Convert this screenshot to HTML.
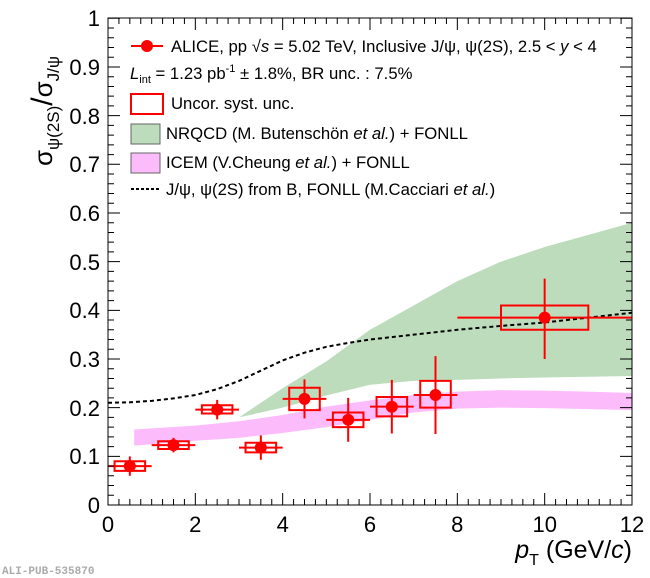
<!DOCTYPE html>
<html><head><meta charset="utf-8"><style>
body{margin:0;background:#fff;}
svg{display:block;font-family:"Liberation Sans",sans-serif;}
</style></head><body>
<svg id="s" width="650" height="578" viewBox="0 0 650 578" xmlns="http://www.w3.org/2000/svg">
<g transform="translate(108,505) scale(43.667,-486.7)">
<polygon fill="#bcdcbc" points="3,0.18 3.5,0.21 4,0.24 5,0.295 6,0.36 7,0.41 8,0.46 9,0.5 10,0.53 11,0.555 12,0.58 12,0.265 10,0.262 9,0.26 8,0.257 7,0.255 6,0.247 5,0.225 4,0.2 3,0.18"/>
<polygon fill="#fcbcfc" points="0.6,0.155 2,0.163 3,0.172 4,0.185 5,0.202 6,0.215 7,0.226 8,0.233 9,0.236 10,0.235 11,0.233 12,0.23 12,0.195 11,0.197 10,0.199 9,0.2 8,0.198 7,0.19 6,0.175 5,0.16 4,0.148 3,0.138 2,0.132 0.6,0.122"/>
<polyline fill="none" stroke="#000" stroke-width="2" stroke-dasharray="4,3" vector-effect="non-scaling-stroke" points="0,0.21 0.5,0.211 1,0.214 1.5,0.219 2,0.226 2.5,0.238 3,0.255 3.5,0.276 4,0.297 4.5,0.313 5,0.325 5.5,0.333 6,0.34 7,0.35 8,0.36 9,0.368 10,0.375 11,0.385 12,0.395"/>
<g fill="none" stroke="#f00" stroke-width="2" vector-effect="non-scaling-stroke">
<rect x="0.15" y="0.07" width="0.7" height="0.02" vector-effect="non-scaling-stroke"/>
<rect x="1.15" y="0.115" width="0.7" height="0.016" vector-effect="non-scaling-stroke"/>
<rect x="2.15" y="0.188" width="0.7" height="0.017" vector-effect="non-scaling-stroke"/>
<rect x="3.15" y="0.108" width="0.7" height="0.02" vector-effect="non-scaling-stroke"/>
<rect x="4.15" y="0.195" width="0.7" height="0.046" vector-effect="non-scaling-stroke"/>
<rect x="5.15" y="0.16" width="0.7" height="0.03" vector-effect="non-scaling-stroke"/>
<rect x="6.15" y="0.182" width="0.7" height="0.04" vector-effect="non-scaling-stroke"/>
<rect x="7.15" y="0.2" width="0.7" height="0.055" vector-effect="non-scaling-stroke"/>
<rect x="9" y="0.36" width="2" height="0.05" vector-effect="non-scaling-stroke"/>
<path vector-effect="non-scaling-stroke" d="M0,0.08H1M0.5,0.06V0.1 M1,0.123H2M1.5,0.108V0.138 M2,0.196H3M2.5,0.176V0.216 M3,0.118H4M3.5,0.093V0.143 M4,0.218H5M4.5,0.178V0.258 M5,0.175H6M5.5,0.13V0.22 M6,0.202H7M6.5,0.147V0.257 M7,0.226H8M7.5,0.146V0.306 M8,0.385H12M10,0.3V0.465"/>
</g>
</g>
<g fill="#f00">
<circle cx="129.8" cy="466.1" r="6"/><circle cx="173.5" cy="445.1" r="6"/><circle cx="217.2" cy="409.6" r="6"/><circle cx="260.8" cy="447.6" r="6"/><circle cx="304.5" cy="398.9" r="6"/><circle cx="348.2" cy="419.8" r="6"/><circle cx="391.8" cy="406.7" r="6"/><circle cx="435.5" cy="395" r="6"/><circle cx="544.7" cy="317.6" r="6"/>
</g>
<rect x="108" y="18" width="524" height="487" fill="none" stroke="#000" stroke-width="1"/>
<path id="ticks" fill="none" stroke="#000" stroke-width="1" d=""/>
<g font-size="22" text-anchor="middle">
<text x="108" y="532">0</text><text x="195.3" y="532">2</text><text x="282.7" y="532">4</text><text x="370" y="532">6</text><text x="457.3" y="532">8</text><text x="544.7" y="532">10</text><text x="632" y="532">12</text>
</g>
<g font-size="22" text-anchor="end">
<text x="100" y="513">0</text><text x="100" y="464">0.1</text><text x="100" y="416">0.2</text><text x="100" y="367">0.3</text><text x="100" y="318">0.4</text><text x="100" y="270">0.5</text><text x="100" y="221">0.6</text><text x="100" y="172">0.7</text><text x="100" y="124">0.8</text><text x="100" y="75">0.9</text><text x="100" y="26">1</text>
</g>
<text x="632" y="558" font-size="25" text-anchor="end"><tspan font-style="italic">p</tspan><tspan font-size="16" dy="7">T</tspan><tspan dy="-7"> (GeV/</tspan><tspan font-style="italic">c</tspan>)</text>
<text transform="translate(52,166) rotate(-90)" font-size="26"><tspan>σ</tspan><tspan font-size="17" dy="7">ψ(2S)</tspan><tspan dy="-7" font-size="30">/</tspan><tspan>σ</tspan><tspan font-size="17" dy="7">J/ψ</tspan></text>
<g font-size="16.7">
<line x1="131" y1="46" x2="163" y2="46" stroke="#f00" stroke-width="2"/><circle cx="147" cy="46" r="6" fill="#f00"/>
<text x="171" y="52">ALICE, pp √<tspan font-style="italic">s</tspan> = 5.02 TeV, Inclusive J/ψ, ψ(2S), 2.5 &lt; <tspan font-style="italic">y</tspan> &lt; 4</text>
<text x="130" y="79"><tspan font-style="italic">L</tspan><tspan font-size="11" dy="4">int</tspan><tspan dy="-4"> = 1.23 pb</tspan><tspan font-size="11" dy="-7">-1</tspan><tspan dy="7"> ± 1.8%, BR unc. : 7.5%</tspan></text>
<rect x="131" y="94" width="32" height="20" fill="none" stroke="#f00" stroke-width="2"/>
<text x="171" y="109">Uncor. syst. unc.</text>
<rect x="131" y="124" width="29" height="20" fill="#bcdcbc" stroke="#666"/>
<text x="166" y="139">NRQCD (M. Butenschön <tspan font-style="italic">et al.</tspan>) + FONLL</text>
<rect x="131" y="153" width="29" height="20" fill="#fcbcfc" stroke="#666"/>
<text x="166" y="168">ICEM (V.Cheung <tspan font-style="italic">et al.</tspan>) + FONLL</text>
<line x1="131" y1="189" x2="159" y2="189" stroke="#000" stroke-width="2" stroke-dasharray="3,2"/>
<text x="166" y="195">J/ψ, ψ(2S) from B, FONLL (M.Cacciari  <tspan font-style="italic">et al.</tspan>)</text>
</g>
<text x="2" y="574" font-size="11" fill="#aaa" font-family="Liberation Mono,monospace" font-weight="bold">ALI-PUB-535870</text>
</svg>
<script>
var d="";
for(var i=0;i<=48;i++){var x=108+i*524/48;var L=(i%8==0)?12:6;d+="M"+x+",505v-"+L+"M"+x+",18v"+L;}
for(var j=0;j<=50;j++){var y=505-j*486.7/50;var L2=(j%5==0)?12:6;d+="M108,"+y+"h"+L2+"M632,"+y+"h-"+L2;}
document.getElementById("ticks").setAttribute("d",d);
</script>
</body></html>
